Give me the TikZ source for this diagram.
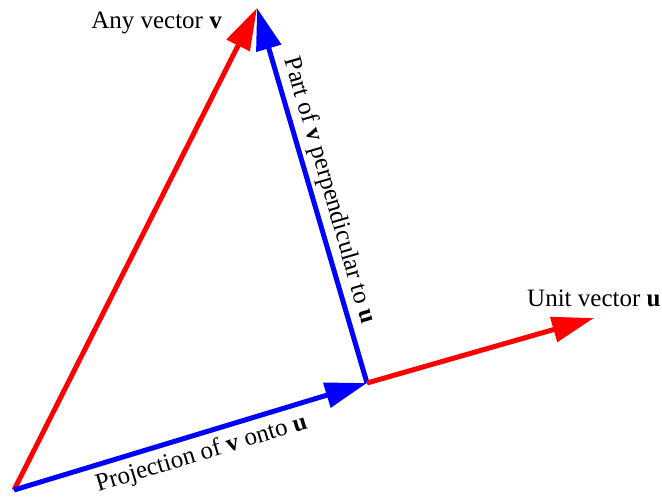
\documentclass[tikz,border=0pt]{standalone}
\usepackage{fontspec}
\setmainfont{Liberation Serif}
\usetikzlibrary{arrows.meta}

\tikzset{
  vec/.style={line width=5pt, -{Triangle[length=42pt,width=25pt]}},
  lbl/.style={font=\fontsize{25}{30}\selectfont, text=black, inner sep=4pt},
}

\begin{document}
\begin{tikzpicture}[x=1pt,y=-1pt]
    \useasboundingbox (0,0) rectangle (662,496);
    \coordinate (O) at (14,490);
    \coordinate (V) at (257,8);
    \coordinate (P) at (367,383);
    \coordinate (U) at (594,318);
    \draw[vec,red] (O) -- (V);
    \draw[vec,blue] (P) -- (V)
      node[lbl,pos=0.5,sloped,above] (perp) {Part of \textbf{v} perpendicular to \textbf{u}};
    \draw[vec,red] (P) -- (U);
    \draw[vec,blue] (O) -- (P)
      node[lbl,pos=0.515,sloped,below,inner sep=6pt] (proj) {Projection of \textbf{v} onto \textbf{u}};
    \node[lbl,anchor=base east,inner sep=0pt] (anyv) at (222,28) {Any vector \textbf{v}};
    \node[lbl,anchor=base west,inner sep=0pt] (unitu) at (527,306) {Unit vector \textbf{u}};
  \end{tikzpicture}
\end{document}
